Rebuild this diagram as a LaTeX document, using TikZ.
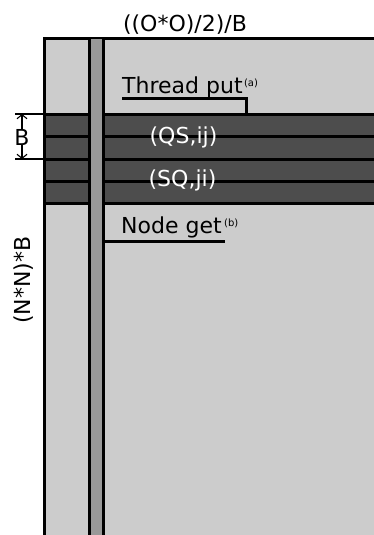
\documentclass[tikz,border=0pt]{standalone}
\usepackage{fontspec}
\setmainfont{DejaVu Sans}
\usetikzlibrary{arrows.meta}
\definecolor{lightfill}{HTML}{CCCCCC}
\definecolor{darkfill}{HTML}{4D4D4D}
\definecolor{midfill}{HTML}{999999}
\begin{document}
\begin{tikzpicture}[x=1pt,y=-1pt,
  thick border/.style={line width=3pt},
  lbl/.style={inner sep=0pt,font=\fontsize{22}{24}\selectfont},
  sup/.style={inner sep=0pt,font=\fontsize{10}{11}\selectfont},
  dim/.style={line width=1.1pt},
  dimarrow/.style={line width=1.1pt,-{Straight Barb[length=4pt,width=10pt]}},
]
\useasboundingbox (0,0) rectangle (374,535);
% main area
\fill[lightfill] (44,39) rectangle (374,535);
% dark band
\fill[darkfill] (44,114) rectangle (374,204);
\foreach \yy in {114,136.5,159,181.5,203.5}
  \draw[thick border] (44,\yy) -- (374,\yy);
% borders
\draw[thick border] (44,535) -- (44,39) -- (374,39);
% strip
\fill[midfill] (89,39) rectangle (103.5,535);
\draw[thick border] (89,39) -- (89,535);
\draw[thick border] (103.5,39) -- (103.5,535);
% labels
\node[lbl,anchor=base] (top) at (185,32) {((O*O)/2)/B};
\node[lbl,anchor=base west] (tp) at (122,93) {Thread put};
\node[sup,anchor=base west,xshift=1pt,yshift=7pt] (tpa) at (tp.base east) {(a)};
\coordinate (tpl) at (122,98.5);
\coordinate (tpr) at (246,98.5);
\coordinate (tpd) at (246,114);
\draw[thick border] (tpl) -- (tpr) -- (tpd);
\node[lbl,anchor=base west] (ng) at (121,233) {Node get};
\node[sup,anchor=base west,xshift=2pt,yshift=7pt] (ngb) at (ng.base east) {(b)};
\coordinate (ngl) at (103.5,241.5);
\coordinate (ngr) at (225,241.5);
\draw[thick border] (ngl) -- (ngr);
\node[lbl,text=white,anchor=center] (qs) at (183.5,137) {(QS,ij)};
\node[lbl,text=white,anchor=center] (sq) at (182.5,180.5) {(SQ,ji)};
% B dimension
\coordinate (bt1) at (15,114);
\coordinate (bt2) at (44,114);
\coordinate (bb1) at (15,159);
\coordinate (bb2) at (44,159);
\draw[dim] (bt1) -- (bt2);
\draw[dim] (bb1) -- (bb2);
\node[lbl,anchor=center] (B) at (22,137) {B};
\coordinate (bat) at (22,114);
\coordinate (bab) at (22,159);
\draw[dimarrow] (B.north) -- (bat);
\draw[dimarrow] (B.south) -- (bab);
\node[lbl,rotate=90,anchor=center] (nn) at (24,280) {(N*N)*B};
\end{tikzpicture}
\end{document}
